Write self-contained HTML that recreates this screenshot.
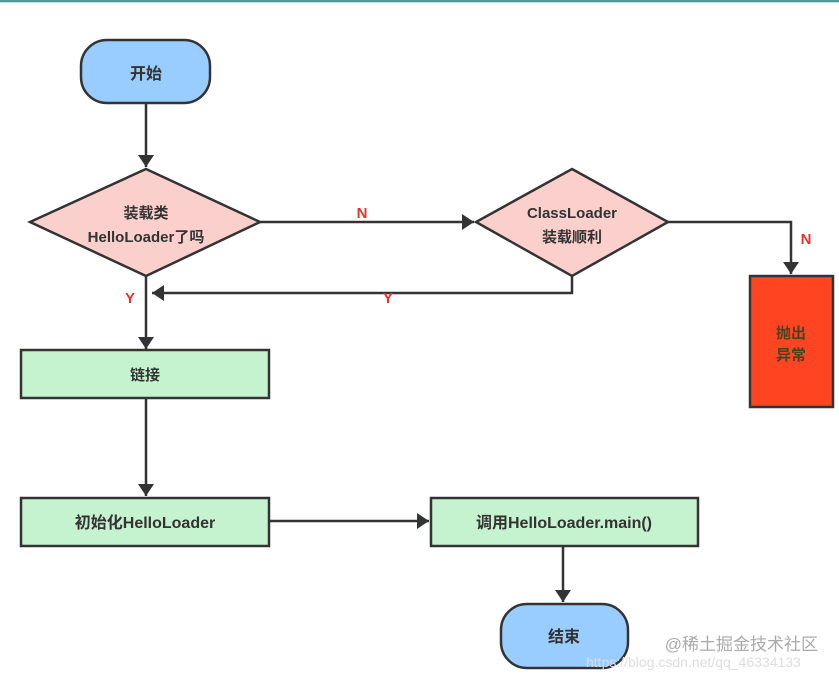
<!DOCTYPE html>
<html><head><meta charset="utf-8"><style>
html,body{margin:0;padding:0;background:#fff;}
svg{display:block;}
text{font-family:"Liberation Sans","Noto Sans CJK SC",sans-serif;font-weight:bold;}
</style></head><body>
<svg width="839" height="681" viewBox="0 0 839 681" xmlns="http://www.w3.org/2000/svg">
<defs>
<marker id="a" markerWidth="10" markerHeight="10" refX="9" refY="5" orient="auto" markerUnits="userSpaceOnUse">
<path d="M0,0 L10,5 L0,10 Z" fill="#333"/>
</marker>
<marker id="b" viewBox="0 0 12 16" markerWidth="12" markerHeight="16" refX="12" refY="8" orient="auto" markerUnits="userSpaceOnUse">
<path d="M0,0 L12,8 L0,16 Z" fill="#333"/>
</marker>
</defs>
<rect x="0" y="0" width="839" height="2" fill="#4a9a94"/>
<rect x="0" y="2" width="839" height="1" fill="#bfe3df"/>
<g stroke="#333" stroke-width="2.5" fill="none">
<line x1="146" y1="104" x2="146" y2="167" marker-end="url(#b)"/>
<line x1="260" y1="222" x2="474" y2="222" marker-end="url(#b)"/>
<polyline points="668,222 791,222 791,274" marker-end="url(#b)"/>
<polyline points="572,276 572,293 152,293" marker-end="url(#b)"/>
<line x1="146" y1="276" x2="146" y2="349" marker-end="url(#b)"/>
<line x1="146" y1="398" x2="146" y2="496" marker-end="url(#b)"/>
<line x1="269" y1="521" x2="429" y2="521" marker-end="url(#b)"/>
<line x1="563" y1="546" x2="563" y2="602" marker-end="url(#b)"/>
</g>
<rect x="81" y="40" width="129" height="63" rx="26" fill="#99ccff" stroke="#333" stroke-width="2.5"/>
<text x="146" y="79" font-size="16" text-anchor="middle" fill="#333">开始</text>
<polygon points="146,169 260,222 146,276 30,222" fill="#fbd0cc" stroke="#333" stroke-width="2.5"/>
<text x="146" y="218" font-size="15" text-anchor="middle" fill="#333">装载类</text>
<text x="146" y="242" font-size="15" text-anchor="middle" fill="#333">HelloLoader了吗</text>
<polygon points="572,169 668,222 572,276 476,222" fill="#fbd0cc" stroke="#333" stroke-width="2.5"/>
<text x="572" y="218" font-size="15" text-anchor="middle" fill="#333">ClassLoader</text>
<text x="572" y="242" font-size="15" text-anchor="middle" fill="#333">装载顺利</text>
<rect x="750" y="276" width="83" height="131" fill="#ff4422" stroke="#333" stroke-width="2.5"/>
<text x="791" y="338" font-size="15" text-anchor="middle" fill="#442">抛出</text>
<text x="791" y="360" font-size="15" text-anchor="middle" fill="#442">异常</text>
<rect x="21" y="350" width="248" height="48" fill="#c6f3cf" stroke="#333" stroke-width="2.5"/>
<text x="145" y="380" font-size="15" text-anchor="middle" fill="#333">链接</text>
<rect x="21" y="498" width="248" height="48" fill="#c6f3cf" stroke="#333" stroke-width="2.5"/>
<text x="145" y="528" font-size="16" text-anchor="middle" fill="#333">初始化HelloLoader</text>
<rect x="431" y="498" width="267" height="48" fill="#c6f3cf" stroke="#333" stroke-width="2.5"/>
<text x="564" y="528" font-size="16" text-anchor="middle" fill="#333">调用HelloLoader.main()</text>
<rect x="501" y="604" width="127" height="64" rx="26" fill="#99ccff" stroke="#333" stroke-width="2.5"/>
<text x="564" y="642" font-size="16" text-anchor="middle" fill="#333">结束</text>
<g fill="#e8322a" font-size="15">
<text x="362" y="218" text-anchor="middle">N</text>
<text x="806" y="244" text-anchor="middle">N</text>
<text x="130" y="303" text-anchor="middle">Y</text>
<text x="388" y="303" text-anchor="middle">Y</text>
</g>
<text x="818" y="650" font-size="17" text-anchor="end" fill="#aaa" style="font-weight:normal">@稀土掘金技术社区</text>
<text x="586" y="667" font-size="14" fill="#ddd" style="font-weight:normal">https://blog.csdn.net/qq_46334133</text>
</svg>
</body></html>
